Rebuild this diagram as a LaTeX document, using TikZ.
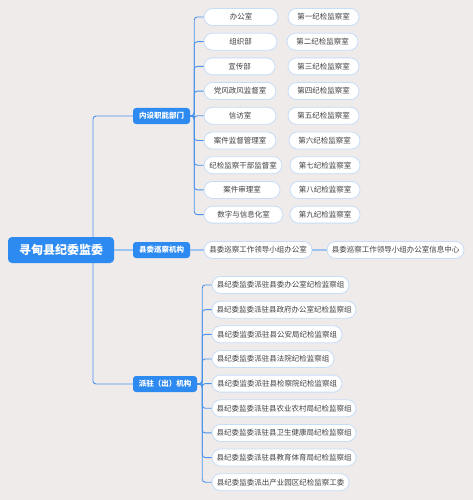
\documentclass[tikz,border=0pt]{standalone}
\usepackage{fontspec}
\setmainfont{Noto Sans CJK SC}
\usetikzlibrary{positioning}

\definecolor{bgcol}{HTML}{EFEBEA}
\definecolor{mainblue}{HTML}{2D8AF0}
\definecolor{linkblue}{HTML}{4A92EA}
\definecolor{lightlink}{HTML}{9DC3F2}
\definecolor{leafline}{HTML}{C6DDF8}
\definecolor{leaftext}{HTML}{404040}

\tikzset{
  rootbox/.style={fill=mainblue,text=white,rounded corners=4pt,minimum width=106pt,minimum height=26pt,inner sep=0pt,font=\fontsize{12}{14}\selectfont\bfseries},
  catbox/.style={fill=mainblue,text=white,rounded corners=3pt,minimum height=16pt,inner sep=0pt,font=\fontsize{7.5}{9}\selectfont\bfseries},
  leafbox/.style={fill=white,draw=leafline,line width=0.8pt,text=leaftext,rounded corners=8.5pt,minimum height=17pt,inner sep=0pt,font=\fontsize{7.5}{9}\selectfont},
  conn/.style={draw=linkblue,line width=0.9pt,rounded corners=3pt},
  straightconn/.style={draw=lightlink,line width=1.8pt}
}

\begin{document}
\begin{tikzpicture}[x=1pt,y=-1pt]
 \fill[bgcol] (0,0) rectangle (473,500);
 \useasboundingbox (0,0) rectangle (473,500);

 % root and the three branches
 \node[rootbox] (root) at (61,250) {寻甸县纪委监委};
 \node[catbox,minimum width=57pt] (inner) at (161.5,116) {内设职能部门};
 \node[catbox,minimum width=57pt] (patrol) at (161.5,250) {县委巡察机构};
 \node[catbox,minimum width=64pt] (station) at (165,384) {派驻（出）机构};

 \draw[conn] ([xshift=32pt]root.north) |- (inner.west);
 \draw[conn] ([xshift=32pt]root.south) |- (station.west);
 \draw[straightconn] (root.east) -- (patrol.west);

 % internal departments
 \foreach \i/\cx/\w/\lab in {0/241/74/办公室,1/240.5/73/组织部,2/239.5/71/宣传部,
   3/240/72/党风政风监督室,4/240/72/信访室,5/240/72/案件监督管理室,
   6/243/78/纪检监察干部监督室,7/242/76/案件审理室,8/243.5/79/数字与信息化室}{%
   \node[leafbox,minimum width=\w pt] (dept\i) at (\cx,17+24.7*\i) {\lab};
   \draw[conn] (inner.east) -- ++(4,0) |- (dept\i.west);
 }

 % discipline inspection offices
 \foreach \i/\cx/\w/\lab in {0/323.5/71/第一纪检监察室,1/322.5/71/第二纪检监察室,
   2/323.5/71/第三纪检监察室,3/323.5/71/第四纪检监察室,4/323.5/71/第五纪检监察室,
   5/324.5/71/第六纪检监察室,6/325/70/第七纪检监察室,7/325/70/第八纪检监察室,
   8/325/70/第九纪检监察室}{%
   \node[leafbox,minimum width=\w pt] (room\i) at (\cx,17+24.7*\i) {\lab};
 }

 % patrol office
 \node[leafbox,minimum width=108pt] (patroloffice) at (258,250) {县委巡察工作领导小组办公室};
 \node[leafbox,minimum width=137pt] (infocenter) at (395.5,250) {县委巡察工作领导小组办公室信息中心};
 \draw[straightconn] (patrol.east) -- (patroloffice.west);
 \draw[straightconn] (patroloffice.east) -- (infocenter.west);

 % stationed groups
 \foreach \i/\cx/\w/\lab in {0/280.5/137/县纪委监委派驻县委办公室纪检监察组,
   1/284/144/县纪委监委派驻县政府办公室纪检监察组,2/277/130/县纪委监委派驻县公安局纪检监察组,
   3/273/122/县纪委监委派驻县法院纪检监察组,4/277/130/县纪委监委派驻县检察院纪检监察组,
   5/284/144/县纪委监委派驻县农业农村局纪检监察组,6/284/144/县纪委监委派驻县卫生健康局纪检监察组,
   7/284/144/县纪委监委派驻县教育体育局纪检监察组,8/280.5/137/县纪委监委派出产业园区纪检监察工委}{%
   \node[leafbox,minimum width=\w pt] (group\i) at (\cx,285+24.65*\i) {\lab};
   \draw[conn] (station.east) -- ++(5,0) |- (group\i.west);
 }
\end{tikzpicture}
\end{document}
